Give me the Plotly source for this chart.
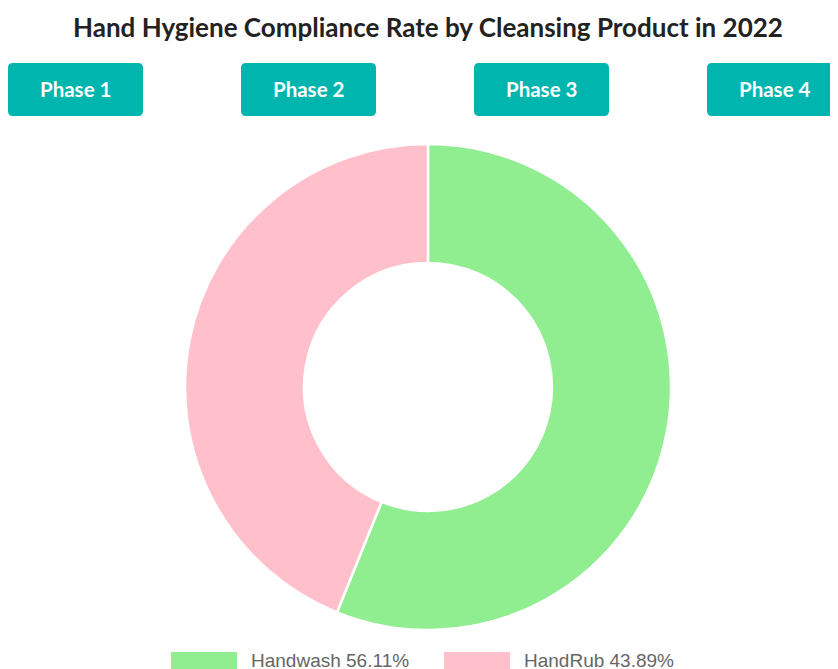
import plotly.graph_objects as go

# The page has an 8px body margin, so the figure is drawn 8px in from the top-left.
OFF = 8
W, H = 838, 669

title_text = "Hand Hygiene Compliance Rate by Cleansing Product in 2022"
labels = ["Handwash", "HandRub"]
values = [56.11, 43.89]
colors = ["#90EE90", "#FFC0CB"]
buttons = ["Phase 1", "Phase 2", "Phase 3", "Phase 4"]


def px_x(x):
    return (x - OFF) / W


def px_y(y):
    return 1 - (y - OFF) / H


def rounded_rect(x0, y0, x1, y1, r):
    X0, X1 = px_x(x0), px_x(x1)
    Y0, Y1 = px_y(y0), px_y(y1)
    rx, ry = r / W, r / H
    return (f"M {X0+rx},{Y0} L {X1-rx},{Y0} Q {X1},{Y0} {X1},{Y0-ry} "
            f"L {X1},{Y1+ry} Q {X1},{Y1} {X1-rx},{Y1} L {X0+rx},{Y1} "
            f"Q {X0},{Y1} {X0},{Y1+ry} L {X0},{Y0-ry} Q {X0},{Y0} {X0+rx},{Y0} Z")


cx, cy, R = 428, 387, 243

fig = go.Figure(go.Pie(
    labels=labels,
    values=values,
    hole=0.51,
    sort=False,
    direction="clockwise",
    rotation=0,
    marker=dict(colors=colors, line=dict(color="white", width=2.5)),
    textinfo="none",
    showlegend=False,
    domain=dict(x=[px_x(cx - R), px_x(cx + R)], y=[px_y(cy + R), px_y(cy - R)]),
))

shapes = []
annotations = []

annotations.append(dict(
    text=f"<b>{title_text}</b>", x=px_x(427.5), y=px_y(27), xref="paper", yref="paper",
    xanchor="center", yanchor="middle", showarrow=False,
    font=dict(family="Lato", size=26, color="#222222"),
))

bx0, bw, bstep = 8, 135, 233
for i, b in enumerate(buttons):
    x0 = bx0 + i * bstep
    shapes.append(dict(type="path", path=rounded_rect(x0, 63, x0 + bw, 116, 5),
                       xref="paper", yref="paper", fillcolor="#00B5AD", line=dict(width=0)))
    annotations.append(dict(
        text=f"<b>{b}</b>", x=px_x(x0 + bw / 2), y=px_y(89.5), xref="paper", yref="paper",
        xanchor="center", yanchor="middle", showarrow=False,
        font=dict(family="Lato", size=20.5, color="white"),
    ))

leg_x = [171, 444]
for i, (lab, val, col) in enumerate(zip(labels, values, colors)):
    x0 = leg_x[i]
    shapes.append(dict(type="rect", x0=px_x(x0), x1=px_x(x0 + 66), y0=px_y(652), y1=px_y(672),
                       xref="paper", yref="paper", fillcolor=col, line=dict(width=0)))
    annotations.append(dict(
        text=f"{lab} {val:.2f}%", x=px_x(x0 + 78), y=px_y(660), xref="paper", yref="paper",
        xanchor="left", yanchor="middle", showarrow=False,
        font=dict(family="Liberation Sans, Arial, sans-serif", size=19, color="#666666"),
    ))

fig.update_layout(
    width=W, height=H,
    margin=dict(l=0, r=0, t=0, b=0),
    paper_bgcolor="white", plot_bgcolor="white",
    shapes=shapes, annotations=annotations,
)

fig.write_html("out.html")
